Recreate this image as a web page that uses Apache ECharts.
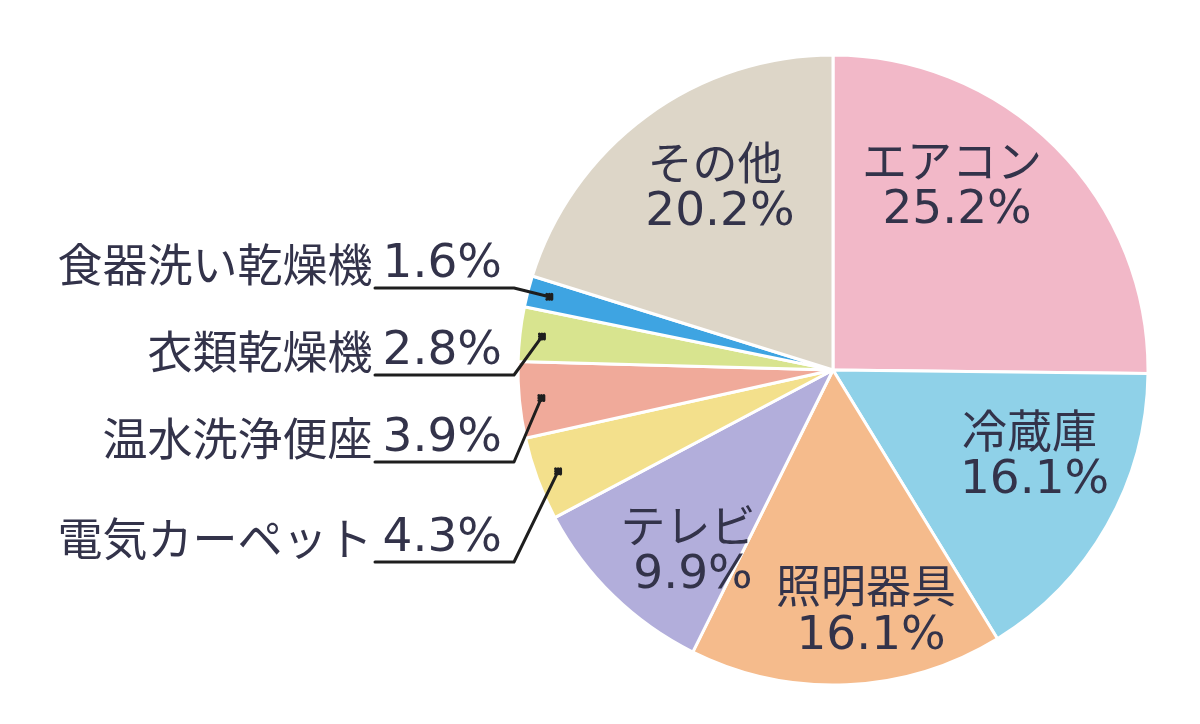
<!DOCTYPE html>
<html>
<head>
<meta charset="utf-8">
<script src="https://cdn.jsdelivr.net/npm/echarts@6/dist/echarts.min.js"></script>
<style>
html,body{margin:0;padding:0;background:#fff;}
#chart{width:1200px;height:724px;}
</style>
</head>
<body>
<div id="chart"></div>
<script>
// ---- data ----
const categories = ['エアコン', '冷蔵庫', '照明器具', 'テレビ', '電気カーペット', '温水洗浄便座', '衣類乾燥機', '食器洗い乾燥機', 'その他'];
const shares = [25.2, 16.1, 16.1, 9.9, 4.3, 3.9, 2.8, 1.6, 20.2];

// ---- styles / layout (not data) ----
const colors = ['#f2b8c8', '#8fd1e8', '#f5bb8c', '#b2aedb', '#f3e08c', '#f0aa9a', '#d8e48f', '#3ea4e2', '#ddd6c8'];
const outerSet = ['電気カーペット', '温水洗浄便座', '衣類乾燥機', '食器洗い乾燥機'];
const outerUnderlineY = { '食器洗い乾燥機': 288, '衣類乾燥機': 375, '温水洗浄便座': 462, '電気カーペット': 562 };
const innerShift = { 'エアコン': [10, -71], '冷蔵庫': [62, 7], '照明器具': [31, 81], 'テレビ': [-28, 66], 'その他': [-18, -53] };
const CX = 833, CY = 370, R = 315;
const LABEL_RIGHT = 502, VALUE_W = 124, DOT_INSET = 22;
const textColor = '#33334a';

const chart = echarts.init(document.getElementById('chart'));

const richStyles = {
  n: { fontFamily: 'Noto Sans CJK JP', fontSize: 45, lineHeight: 50, color: textColor, padding: [0, 10, 0, 0] },
  v: { fontFamily: 'DejaVu Sans', fontSize: 47, lineHeight: 50, color: textColor }
};

// base pie: sectors + inside labels
const baseData = categories.map((name, i) => {
  const outer = outerSet.includes(name);
  return {
    name: name,
    value: shares[i],
    itemStyle: { color: colors[i] },
    label: outer ? { show: false } : { show: true, position: 'inside', formatter: '{n|{b}}\n{v|{c}%}' }
  };
});

// overlay pie: transparent sectors, carries outside labels + leader lines drawn above the base
const overlayData = categories.map((name, i) => {
  const outer = outerSet.includes(name);
  return {
    name: name,
    value: shares[i],
    label: { show: outer, position: 'outside', formatter: '{n|{b}}{v|{c}%}' },
    labelLine: { show: outer }
  };
});

chart.setOption({
  backgroundColor: '#ffffff',
  animation: false,
  series: [{
    type: 'pie',
    z: 2,
    center: [CX, CY],
    radius: R,
    startAngle: 90,
    clockwise: true,
    avoidLabelOverlap: false,
    itemStyle: { borderColor: '#ffffff', borderWidth: 3 },
    label: { color: textColor, rich: richStyles },
    labelLine: { show: false },
    labelLayout: function (params) {
      const s = innerShift[categories[params.dataIndex]] || [0, 0];
      return { dx: s[0], dy: s[1] };
    },
    data: baseData
  }, {
    type: 'pie',
    z: 5,
    silent: true,
    center: [CX, CY],
    radius: R,
    startAngle: 90,
    clockwise: true,
    avoidLabelOverlap: false,
    itemStyle: { color: 'rgba(0,0,0,0)', borderWidth: 0 },
    emphasis: { disabled: true },
    label: { color: textColor, rich: richStyles },
    labelLine: {
      show: true,
      showAbove: true,
      length: 20,
      length2: 20,
      lineStyle: { color: '#1e1e1e', width: 3, join: 'round', cap: 'round' }
    },
    labelLayout: function (params) {
      const name = categories[params.dataIndex];
      if (!outerSet.includes(name)) return {};
      const uy = outerUnderlineY[name];
      const pts = params.labelLinePoints;
      let dot = [CX - R + DOT_INSET, CY];
      if (pts) {
        const ddx = pts[0][0] - CX, ddy = pts[0][1] - CY;
        const len = Math.sqrt(ddx * ddx + ddy * ddy) || 1;
        dot = [CX + ddx / len * (R - DOT_INSET), CY + ddy / len * (R - DOT_INSET)];
      }
      const d = 2.5;
      const corner = [LABEL_RIGHT + 12, uy];
      const start = [LABEL_RIGHT - VALUE_W - 3, uy];
      const blob = [
        [dot[0] - d, dot[1]], [dot[0] + d, dot[1]],
        [dot[0], dot[1] - d], [dot[0], dot[1] + d],
        [dot[0] - d, dot[1] - d], [dot[0] + d, dot[1] + d],
        [dot[0] + d, dot[1] - d], [dot[0] - d, dot[1] + d],
        dot
      ];
      return {
        x: LABEL_RIGHT,
        y: uy - 23,
        align: 'right',
        verticalAlign: 'middle',
        labelLinePoints: blob.concat([corner, start])
      };
    },
    data: overlayData
  }]
});
</script>
</body>
</html>
